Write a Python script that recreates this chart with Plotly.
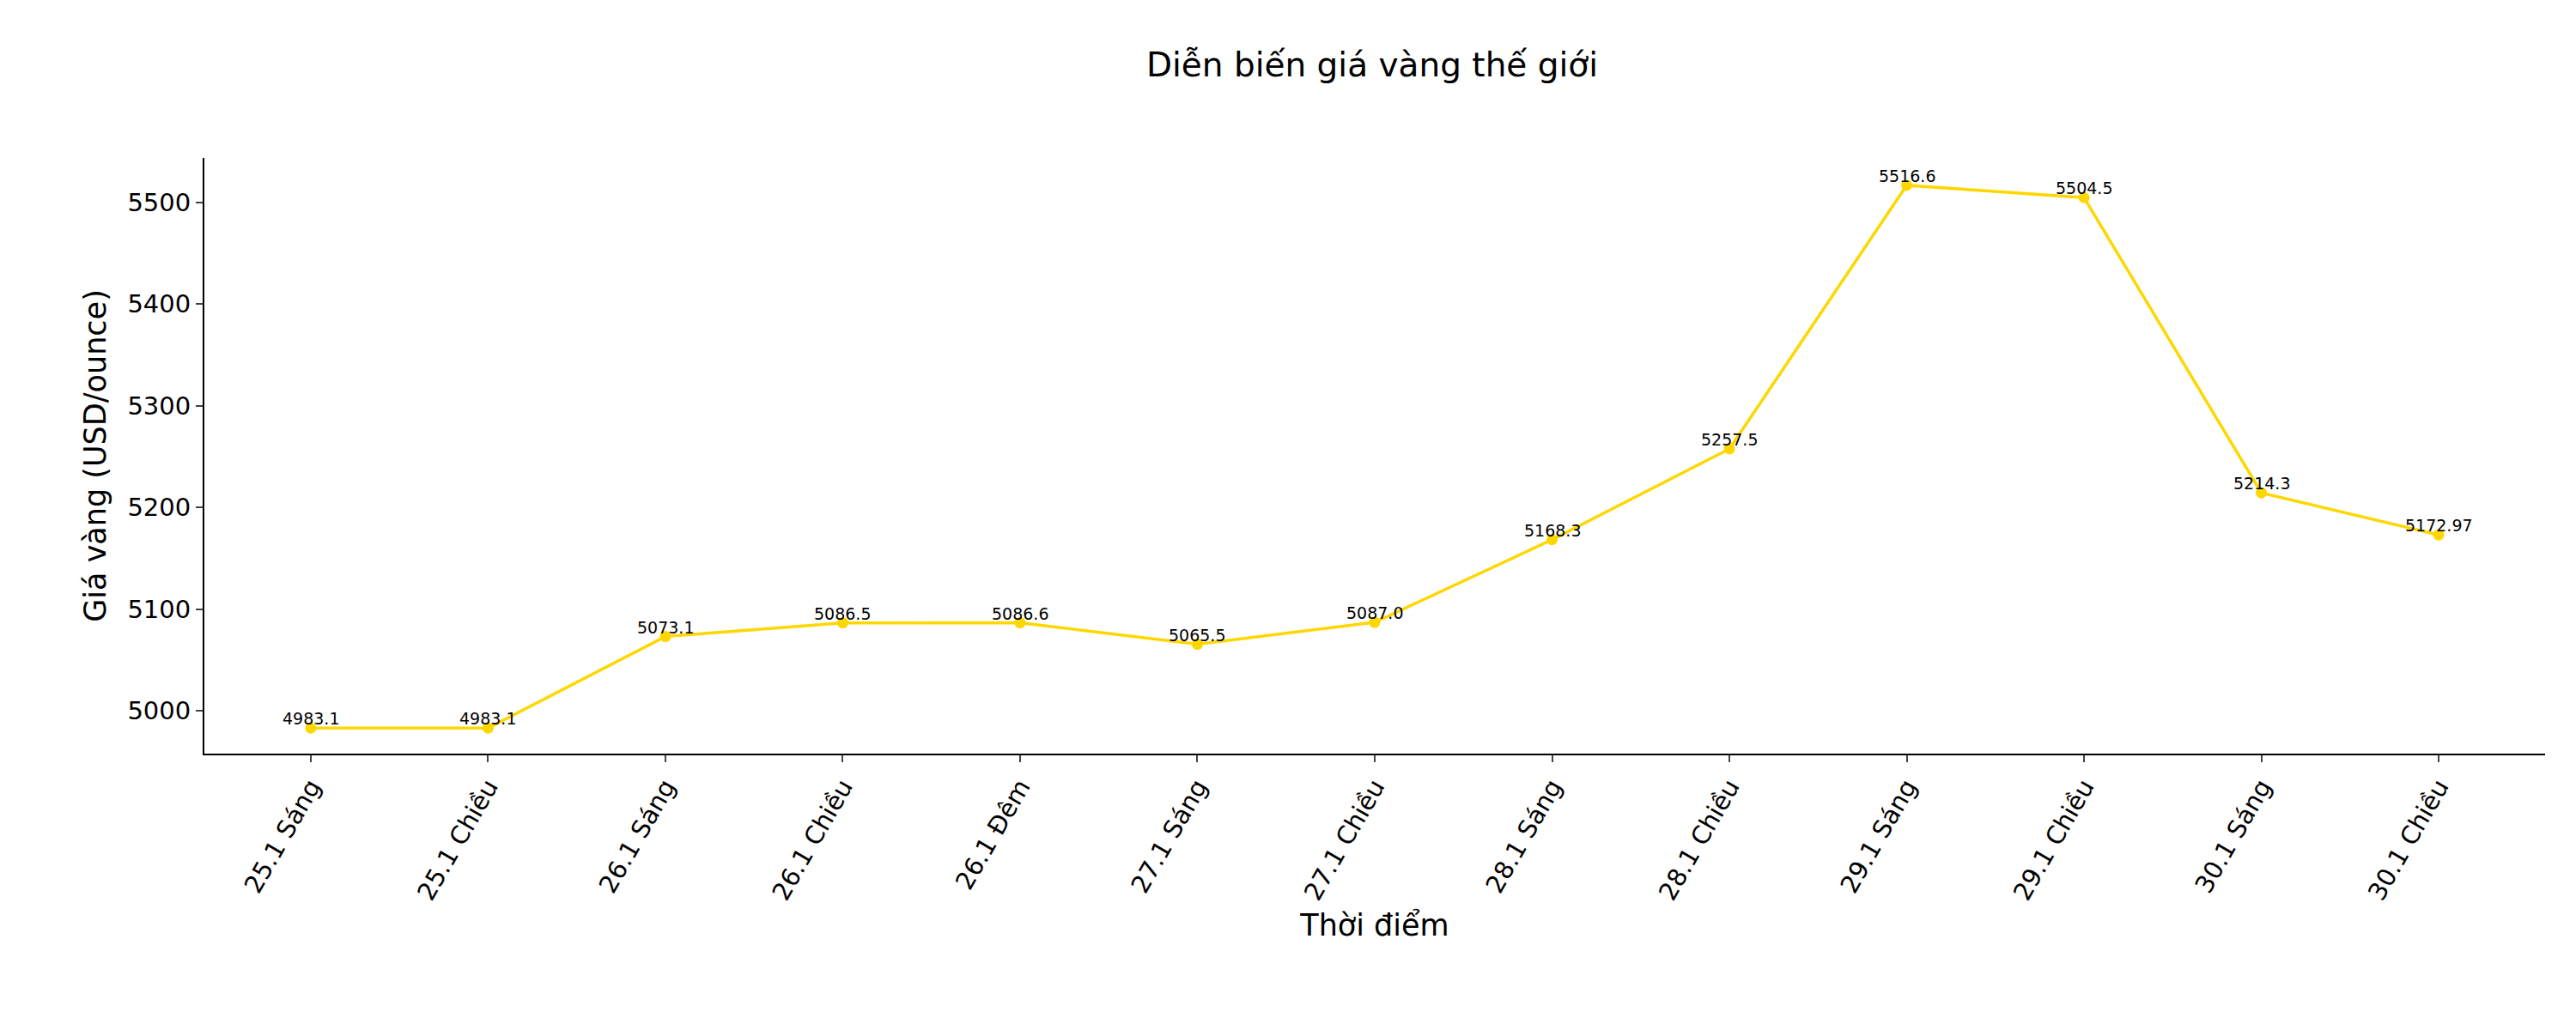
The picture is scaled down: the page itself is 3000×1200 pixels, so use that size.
import plotly.graph_objects as go

labels = ["25.1 Sáng","25.1 Chiều","26.1 Sáng","26.1 Chiều","26.1 Đêm","27.1 Sáng","27.1 Chiều",
          "28.1 Sáng","28.1 Chiều","29.1 Sáng","29.1 Chiều","30.1 Sáng","30.1 Chiều"]
prices = [4983.1,4983.1,5073.1,5086.5,5086.6,5065.5,5087.0,5168.3,5257.5,5516.6,5504.5,5214.3,5172.97]
text_labels = ["4983.1","4983.1","5073.1","5086.5","5086.6","5065.5","5087.0","5168.3","5257.5","5516.6","5504.5","5214.3","5172.97"]

x = list(range(len(labels)))
fig = go.Figure(go.Scatter(
    x=x, y=prices, mode="lines+markers",
    line=dict(color="#FFD700", width=3.5), marker=dict(color="#FFD700", size=13),
    cliponaxis=False, showlegend=False))
for xi, yi, t in zip(x, prices, text_labels):
    fig.add_annotation(x=xi, y=yi, text=t, showarrow=False, yanchor="bottom", yshift=-2,
                       font=dict(size=19, color="black", family="DejaVu Sans"))
fig.update_layout(
    width=3000, height=1200, plot_bgcolor="white", paper_bgcolor="white",
    font=dict(family="DejaVu Sans", size=29, color="black"),
    margin=dict(l=230, r=44, t=176, b=330),
    title=dict(text="Diễn biến giá vàng thế giới", x=0.53, xanchor="center", y=0.955, yanchor="top",
               font=dict(size=39)),
)
fig.update_xaxes(range=[-0.6, 12.6], tickmode="array", tickvals=x, ticktext=labels, tickangle=-60,
                 showline=True, linecolor="black", linewidth=2, ticks="outside", ticklen=8, tickwidth=2,
                 showgrid=False, zeroline=False, mirror=False,
                 title=dict(text="Thời điểm", standoff=12))
fig.update_yaxes(range=[4958, 5543.5], tickvals=[5000,5100,5200,5300,5400,5500],
                 showline=True, linecolor="black", linewidth=2, ticks="outside", ticklen=8, tickwidth=2,
                 showgrid=False, zeroline=False, mirror=False,
                 title=dict(text="Giá vàng (USD/ounce)", standoff=14))
fig.write_html("out.html")
